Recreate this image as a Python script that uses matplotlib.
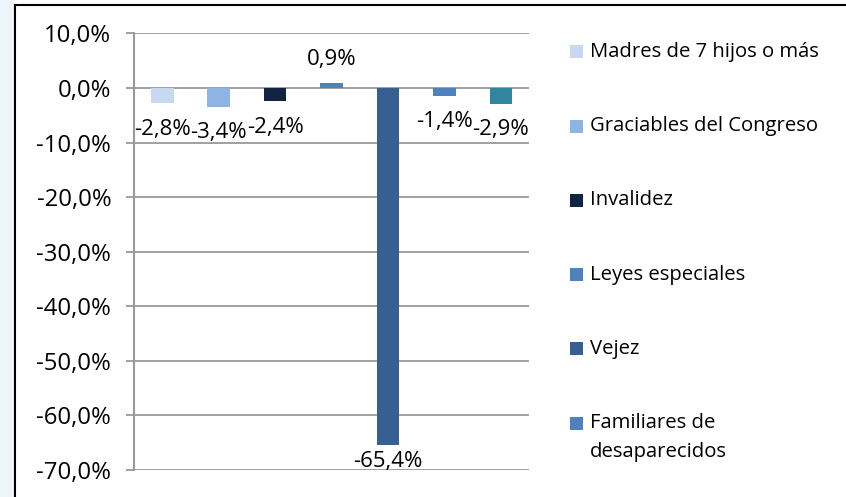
import matplotlib.pyplot as plt
from matplotlib.patches import Rectangle
from matplotlib.lines import Line2D
from matplotlib.ticker import FuncFormatter

categorias = ['Madres de 7 hijos o más', 'Graciables del Congreso', 'Invalidez',
              'Leyes especiales', 'Vejez', 'Familiares de\ndesaparecidos', 'Otros']
valores = [-2.8, -3.4, -2.4, 0.9, -65.4, -1.4, -2.9]
cores = ['#c6d9f1', '#8eb4e3', '#10243f', '#4f81bd', '#376092', '#4f81bd', '#31859c']
ticks_y = [10, 0, -10, -20, -30, -40, -50, -60, -70]

plt.rcParams['font.family'] = ['Open Sans', 'DejaVu Sans']

W, H = 846, 497
fig = plt.figure(figsize=(W / 100, H / 100), dpi=100)
fig.patch.set_facecolor('white')

def fx(px): return px / W
def fy(px): return 1 - px / H

# faixa azulada à esquerda e moldura preta (só esquerda e topo aparecem)
fig.patches.append(Rectangle((0, 0), fx(14), 1, transform=fig.transFigure,
                             facecolor='#eef4fa', edgecolor='none', zorder=0))
fig.add_artist(Line2D([fx(14.5), fx(14.5)], [0, fy(4.5)], color='black', lw=1.5))
fig.add_artist(Line2D([fx(14.5), 1], [fy(4.5), fy(4.5)], color='black', lw=1.5))

ax = fig.add_axes([fx(134), fy(470), fx(529) - fx(134), fy(33.5) - fy(470)])
ax.set_facecolor('none')

x = list(range(len(valores)))
barras = ax.bar(x, valores, width=0.4, color=cores, zorder=3)

# rótulos de dados
for xi, v in zip(x, valores):
    txt = f"{v:.1f}".replace('.', ',') + '%'
    off = 24 if v > 0 else -26
    if v < -30:
        off = -17
    ax.annotate(txt, (xi, v), xytext=(0, off * 0.72), textcoords='offset points',
                ha='center', va='center', fontsize=16, color='black', zorder=4)

ax.set_xlim(-0.5, len(valores) - 0.5)
ax.set_ylim(-70, 10)
ax.set_yticks(ticks_y)
ax.yaxis.set_major_formatter(FuncFormatter(lambda v, p: f"{v:.1f}".replace('.', ',') + '%'))
ax.tick_params(axis='y', length=5.8, width=1.3, color='#999999', labelsize=17.2, pad=10.5)
ax.set_xticks([])
ax.grid(axis='y', color='#999999', linewidth=1.3, zorder=1)
for s in ['top', 'right', 'bottom']:
    ax.spines[s].set_visible(False)
ax.spines['left'].set_color('#999999')
ax.spines['left'].set_linewidth(1.5)

# legenda (só as seis primeiras séries aparecem)
for i in range(6):
    yc = 52 + i * 74.2
    fig.patches.append(Rectangle((fx(570), fy(yc + 6.5)), fx(13), fy(0) - fy(13),
                                 transform=fig.transFigure, facecolor=cores[i],
                                 edgecolor='none'))
    n = categorias[i].count('\n')
    fig.text(fx(590), fy(yc + n * 14.5), categorias[i], ha='left', va='center',
             fontsize=14.6, linespacing=1.6)

fig.savefig('out.png', dpi=100)
